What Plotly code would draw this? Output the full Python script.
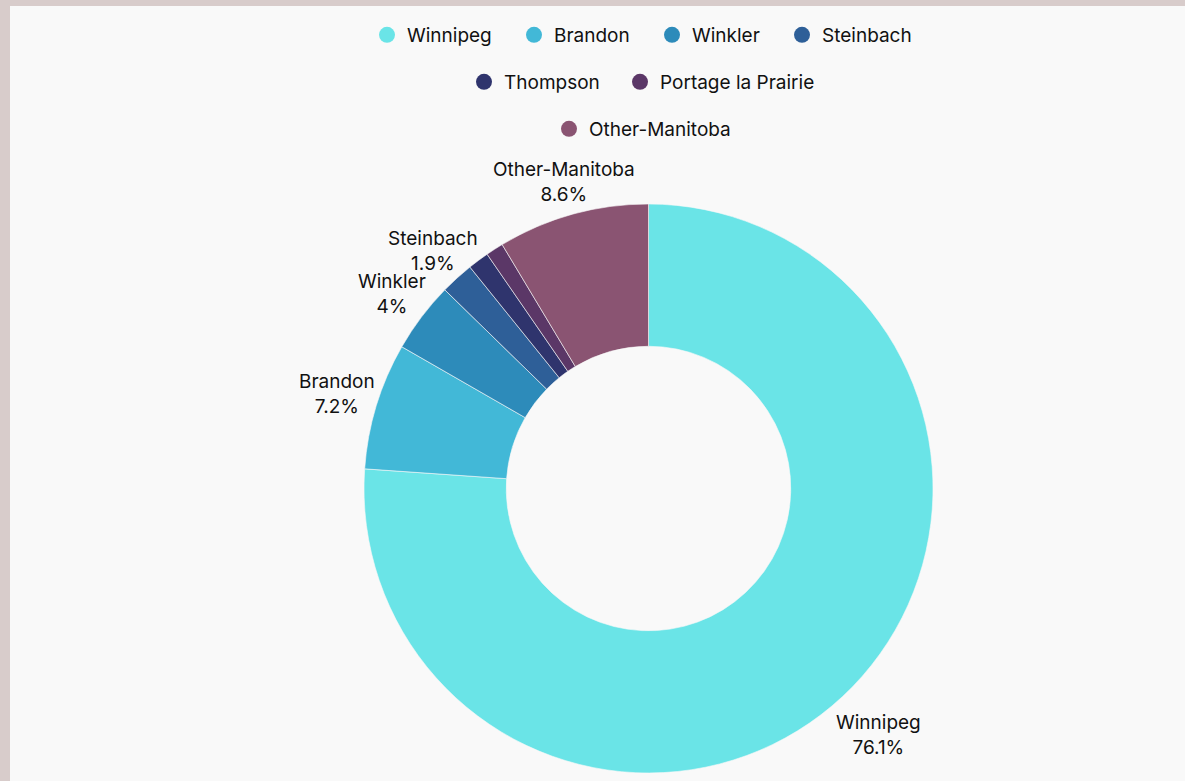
import math
import plotly.graph_objects as go

W, H = 1185, 781

# ---- data ----
cities = ["Winnipeg", "Brandon", "Winkler", "Steinbach", "Thompson",
          "Portage la Prairie", "Other-Manitoba"]
shares = [76.1, 7.2, 4.0, 1.9, 1.2, 1.0, 8.6]
share_labels = ["76.1%", "7.2%", "4%", "1.9%", "", "", "8.6%"]
colors = ["#6ae4e7", "#42b8d7", "#2d8bba", "#2e5f98", "#2f346d",
          "#5b3767", "#8a5472"]
legend_rows = [["Winnipeg", "Brandon", "Winkler", "Steinbach"],
               ["Thompson", "Portage la Prairie"],
               ["Other-Manitoba"]]

FONT = "Inter"
FS = 19
TXT = "#111111"
BG = "#f9f9f9"
FRAME = "#d8cccb"

fig = go.Figure()

# pie geometry (pixels)
cx, cy, r = 648.5, 488.5, 284.5
fig.add_trace(go.Pie(
    labels=cities, values=shares, textinfo="none",
    hole=0.5, sort=False, direction="clockwise",
    rotation=0, showlegend=False,
    marker=dict(colors=colors, line=dict(color=BG, width=0.6)),
    domain=dict(x=[(cx - r) / W, (cx + r) / W],
                y=[(H - (cy + r)) / H, (H - (cy - r)) / H]),
    hoverinfo="label+percent",
))

# outside labels placed radially at each slice's mid-angle (derived from data)
total = sum(shares)
annotations = []
cum = 0.0
for c, v, p in zip(cities, shares, share_labels):
    mid = (cum + v / 2) / total * 2 * math.pi
    cum += v
    if not p:
        continue
    label_r = r + 44.5 - 11.5 * math.cos(mid)
    px = cx + label_r * math.sin(mid)
    py = cy - label_r * math.cos(mid)
    annotations.append(dict(
        x=px / W, y=1 - py / H, xref="paper", yref="paper",
        text=f"{c}<br>{p}", showarrow=False, align="center",
        xanchor="center", yanchor="middle",
        font=dict(family=FONT, size=FS, color=TXT),
    ))

# legend: one legend per entry so each circle sits where it should
row_y = [35, 82, 129]
marker_x = [[387, 534, 672, 802], [484, 640], [569]]
legend_cfg = {}
k = 0
for row, yy, xs in zip(legend_rows, row_y, marker_x):
    for c, mx in zip(row, xs):
        k += 1
        lname = "legend" if k == 1 else f"legend{k}"
        i = cities.index(c)
        fig.add_trace(go.Scatter(
            x=[None], y=[None], mode="markers", name=c, legend=lname,
            marker=dict(color=colors[i], size=18, symbol="circle"),
        ))
        legend_cfg[lname] = dict(
            orientation="h", x=(mx - 20) / W, xanchor="left",
            y=1 - yy / H, yanchor="middle",
            font=dict(family=FONT, size=FS, color=TXT),
            bgcolor="rgba(0,0,0,0)", itemsizing="trace",
        )

fig.update_layout(
    width=W, height=H, margin=dict(l=0, r=0, t=0, b=0),
    paper_bgcolor=FRAME, plot_bgcolor="rgba(0,0,0,0)",
    xaxis=dict(visible=False), yaxis=dict(visible=False),
    font=dict(family=FONT, size=FS, color=TXT),
    shapes=[dict(type="rect", xref="paper", yref="paper", layer="below",
                 x0=10 / W, x1=1.0, y0=0, y1=1 - 6 / H,
                 fillcolor=BG, line=dict(width=0))],
    annotations=annotations,
    **legend_cfg,
)

fig.write_html("out.html", config={"displayModeBar": False},
               post_script="document.body.style.margin='0';")
